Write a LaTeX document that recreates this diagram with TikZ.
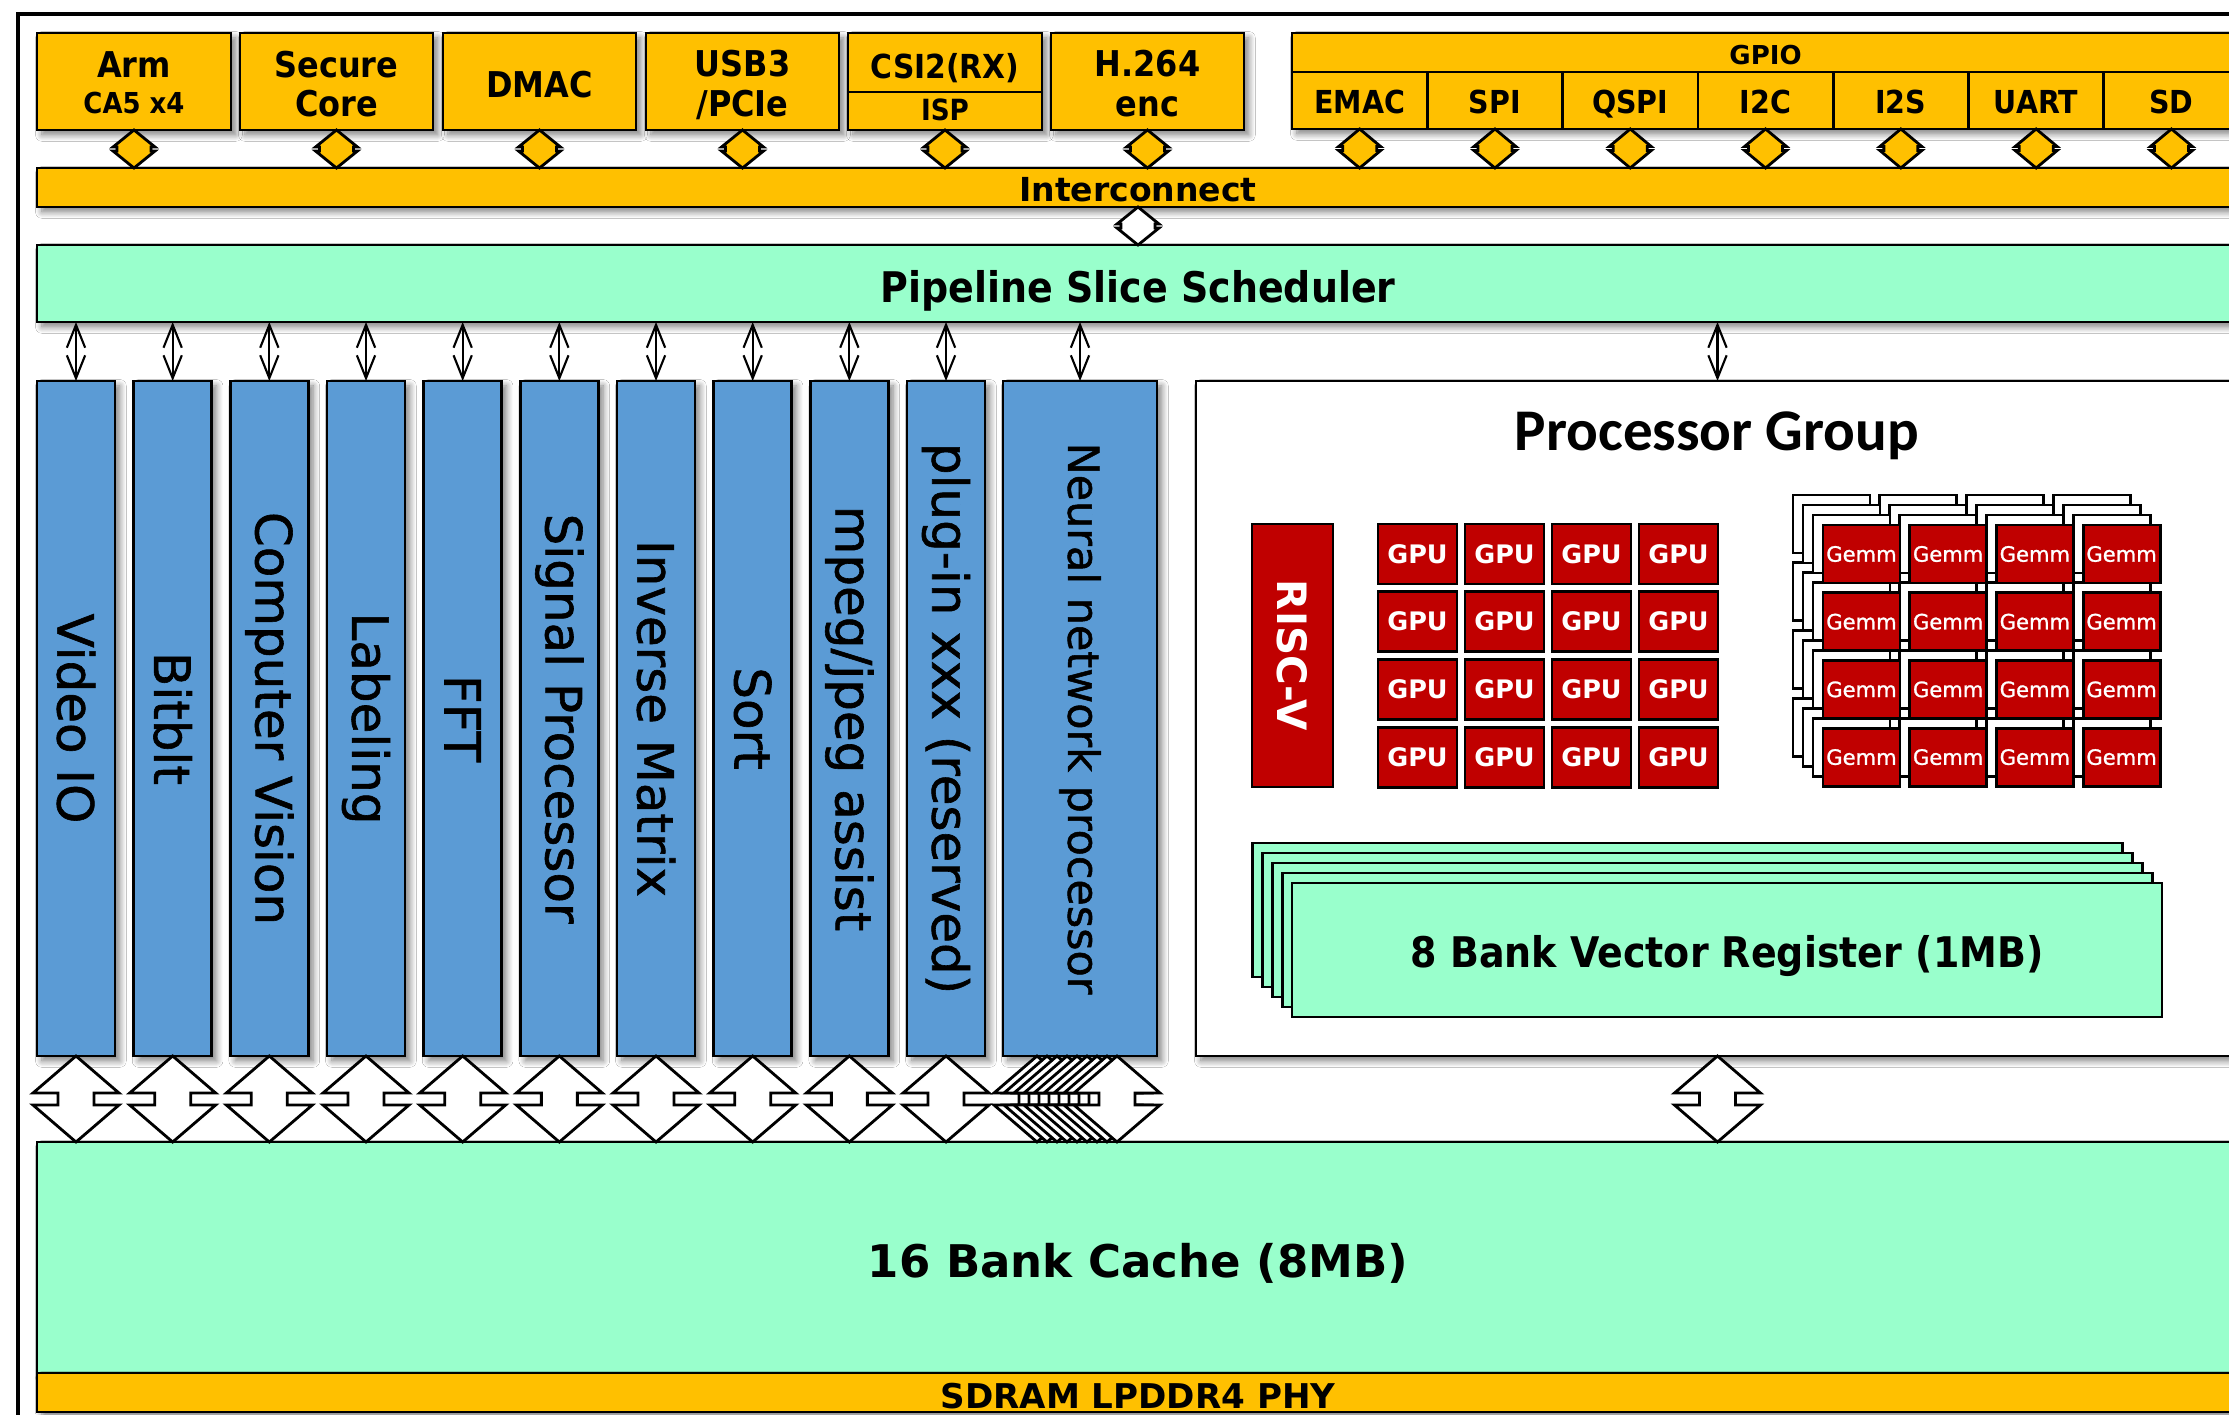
\documentclass[tikz,border=0pt]{standalone}
\usepackage{fontspec}
\setmainfont{DejaVu Sans}
\newfontfamily\fReg{DejaVu Sans}
\newfontfamily\fMed{DejaVu Sans}[FakeBold=1.2]
\newfontfamily\fNar{DejaVu Sans}[FakeStretch=0.9]
\newfontfamily\fCal{Carlito}
\usetikzlibrary{fit,calc,arrows.meta,shadows.blur}
\definecolor{gold}{HTML}{FFC000}
\definecolor{mint}{HTML}{99FFCC}
\definecolor{steel}{HTML}{5B9BD5}
\definecolor{ruby}{HTML}{C00000}
\newcommand\setsz[1]{\fontsize{#1}{#1}\selectfont}
\tikzset{
  shd/.style={blur shadow={shadow xshift=1.4pt, shadow yshift=-1.4pt,
      shadow blur radius=1.8pt, shadow blur steps=8, shadow opacity=50}},
  blk/.style={draw=black, line width=0.8pt, inner sep=0pt, outer sep=0pt},
  goldbox/.style={blk, fill=gold, shd},
  mintbox/.style={blk, fill=mint, shd},
  colbox/.style={blk, fill=steel, shd},
  redbox/.style={blk, fill=ruby},
  txt/.style={inner sep=0pt, outer sep=0pt, anchor=base},
  lblC/.style={txt, font=\fNar\bfseries\setsz{#1}},
  lblN/.style={txt, font=\fReg\bfseries\setsz{#1}},
  coltext/.style={inner sep=0pt, rotate=-90, font=\fMed\setsz{#1}},
  dblthin/.style={line width=0.6pt,
      {Straight Barb[length=6.5pt,width=5.2pt]}-{Straight Barb[length=6.5pt,width=5.2pt]}},
  smallarrow/.style={draw=black, line width=0.8pt, fill=gold, shd},
  whitearrow/.style={draw=black, line width=0.8pt, fill=white, shd},
  % up-down block arrow: total length, head half-width, shaft half-width, head length
  pics/updown/.style n args={4}{code={
    \path[pic actions] (0,0) -- (#2,#4) -- (#3,#4) -- (#3,#1-#4) -- (#2,#1-#4)
      -- (0,#1) -- (-#2,#1-#4) -- (-#3,#1-#4) -- (-#3,#4) -- (-#2,#4) -- cycle;
  }},
}
\begin{document}
\begin{tikzpicture}[x=0.01cm, y=-0.01cm]
\useasboundingbox (0,0) rectangle (2229,1414);
\fill[white] (0,0) rectangle (2229,1414);
\clip (0,0) rectangle (2229,1414);

% outer frame
\draw[line width=1.2pt] (18,14) rectangle (2300,1460);

% ---------- top peripheral blocks ----------
\node[goldbox, fit={(37,33) (231,130)}] (arm) {};
\node[lblC=10.1pt] (armA) at (134,77) {Arm};
\node[lblC=8.2pt] (armB) at (134,113) {CA5 x4};

\node[goldbox, fit={(240,33) (433,130)}] (sec) {};
\node[lblC=10.1pt] (secA) at (336.5,77) {Secure};
\node[lblC=10.1pt] (secB) at (336.5,116) {Core};

\node[goldbox, fit={(443,33) (636,130)}] (dmac) {};
\node[lblC=10.1pt] (dmacA) at (539.5,97) {DMAC};

\node[goldbox, fit={(646,33) (839,130)}] (usb) {};
\node[lblC=10.1pt] (usbA) at (742.5,76) {USB3};
\node[lblC=10.1pt] (usbB) at (742.5,116) {/PCIe};

\node[goldbox, fit={(848,33) (1042,130)}] (csi) {};
\node[blk, fill=gold, fit={(848,33) (1042,92)}] (csiA) {};
\node[blk, fill=gold, fit={(848,92) (1042,130)}] (csiB) {};
\node[lblC=9.4pt] (csiAT) at (945,78) {CSI2(RX)};
\node[lblC=8.3pt] (csiBT) at (945,120) {ISP};

\node[goldbox, fit={(1051,33) (1244,130)}] (h264) {};
\node[lblC=10.1pt] (h264A) at (1147.5,76) {H.264};
\node[lblC=10.1pt] (h264B) at (1147.5,116) {enc};

% GPIO group
\node[goldbox, fit={(1292,33) (2239,129)}] (gpio) {};
\node[blk, fill=gold, fit={(1292,33) (2239,72)}] (gpioH) {};
\node[lblN=7.4pt] (gpioT) at (1765.5,64) {GPIO};
\foreach \k/\n/\t in {0/emac/EMAC,1/spi/SPI,2/qspi/QSPI,3/iic/I2C,4/iis/I2S,5/uart/UART,6/sd/SD}{
  \node[blk, fill=gold, fit={(1292+135.3*\k,72) (1427.3+135.3*\k,129)}] (\n) {};
  \node[lblC=9pt] (L\n) at ($(\n.south)+(0,-16)$) {\t};
}

% ---------- interconnect and scheduler ----------
\node[goldbox, fit={(37,168) (2239,207)}] (ic) {};
\node[lblN=9.4pt] (icT) at (1138,201) {Interconnect};

\node[mintbox, fit={(37,245) (2239,322)}] (pipe) {};
\node[lblC=12pt] (pipeT) at (1138,302) {Pipeline Slice Scheduler};

% ---------- cache and PHY ----------
\node[mintbox, fit={(37,1142) (2239,1373)}] (cache) {};
\node[lblN=12.8pt] (cacheT) at (1138,1277) {16 Bank Cache (8MB)};
\node[goldbox, fit={(37,1373) (2239,1412)}] (phy) {};
\node[lblN=9.7pt] (phyT) at (1138,1408) {SDRAM LPDDR4 PHY};

% ---------- accelerator columns ----------
\foreach \i/\t in {0/{Video IO},1/{Bitblt},2/{Computer Vision},3/{Labeling},4/{FFT},
    5/{Signal Processor},6/{Inverse Matrix},7/{Sort},8/{mpeg/jpeg assist},9/{plug-in xxx (reserved)}}{
  \node[colbox, fit={(37+96.67*\i,381) (115+96.67*\i,1056)}] (c\i) {};
  \node[coltext=14.2pt] (t\i) at (c\i.center) {\t};
}
\node[colbox, fit={(1003,381) (1157,1056)}] (npu) {};
\node[coltext=12.2pt] (npuT) at (npu.center) {Neural network processor};

% ---------- processor group ----------
\node[blk, fill=white, shd, fit={(1196,381) (2239,1056)}] (pg) {};
\node[txt, font=\fCal\bfseries\setsz{16.8pt}] (pgT) at (1717,450) {Processor Group};

\node[redbox, fit={(1252,524) (1333,787)}] (risc) {};
\node[inner sep=0pt, rotate=-90, text=white, font=\fReg\bfseries\setsz{11.5pt}] (riscT) at (risc.center) {RISC-V};

\foreach \r in {0,...,3}{
  \foreach \c in {0,...,3}{
    \node[redbox, fit={(1378+87*\c,524+67.7*\r) (1457+87*\c,584+67.7*\r)}] (g\r\c) {};
    \node[inner sep=0pt, text=white, font=\fReg\bfseries\setsz{7.25pt}] (gt\r\c) at (g\r\c.center) {GPU};
  }
}

% stacked matrix units
\foreach \k in {3,2,1}{
  \foreach \r in {0,...,3}{
    \foreach \c in {0,...,3}{
      \node[blk, fill=white, fit={(1823+86.7*\c-10*\k,525+67.7*\r-10*\k) (1900+86.7*\c-10*\k,583+67.7*\r-10*\k)}] (mb\k\r\c) {};
    }
  }
}
\foreach \r in {0,...,3}{
  \foreach \c in {0,...,3}{
    \node[redbox, fit={(1823+86.7*\c,525+67.7*\r) (1900+86.7*\c,583+67.7*\r)}] (m\r\c) {};
    \node[inner sep=0pt, text=white, font=\fMed\setsz{6pt}] (mt\r\c) at (m\r\c.center) {Gemm};
  }
}

% stacked vector register banks
\foreach \k in {4,3,2,1}{
  \node[blk, fill=mint, fit={(1292-9.8*\k,883-10*\k) (2162-9.8*\k,1017-10*\k)}] (vb\k) {};
}
\node[blk, fill=mint, fit={(1292,883) (2162,1017)}] (vr) {};
\node[lblC=12pt] (vrT) at (1727,967) {8 Bank Vector Register (1MB)};

% ---------- connectors ----------
\foreach \n in {arm,sec,dmac,usb,csi,h264}{
  \pic[smallarrow] at (\n.south) {updown={38}{21}{17}{17}};
}
\foreach \n in {emac,spi,qspi,iic,iis,uart,sd}{
  \pic[smallarrow] at (\n.south) {updown={39}{21}{17}{17.5}};
}
\pic[whitearrow] at (ic.south) {updown={38}{21}{17}{17}};

\foreach \i in {0,...,9}{
  \draw[dblthin] (c\i.north |- pipe.south) -- (c\i.north);
}
\draw[dblthin] (npu.north |- pipe.south) -- (npu.north);
\draw[dblthin] (pg.north |- pipe.south) -- (pg.north);

\foreach \i in {0,...,9}{
  \pic[whitearrow] at (c\i.south) {updown={86}{43}{18}{37}};
}
\foreach \k in {0,...,8}{
  \pic[whitearrow] at ($(npu.south)+(-43+10*\k,0)$) {updown={86}{43}{18}{37}};
}
\pic[whitearrow] at (pg.south) {updown={86}{43}{18}{37}};
\end{tikzpicture}
\end{document}
